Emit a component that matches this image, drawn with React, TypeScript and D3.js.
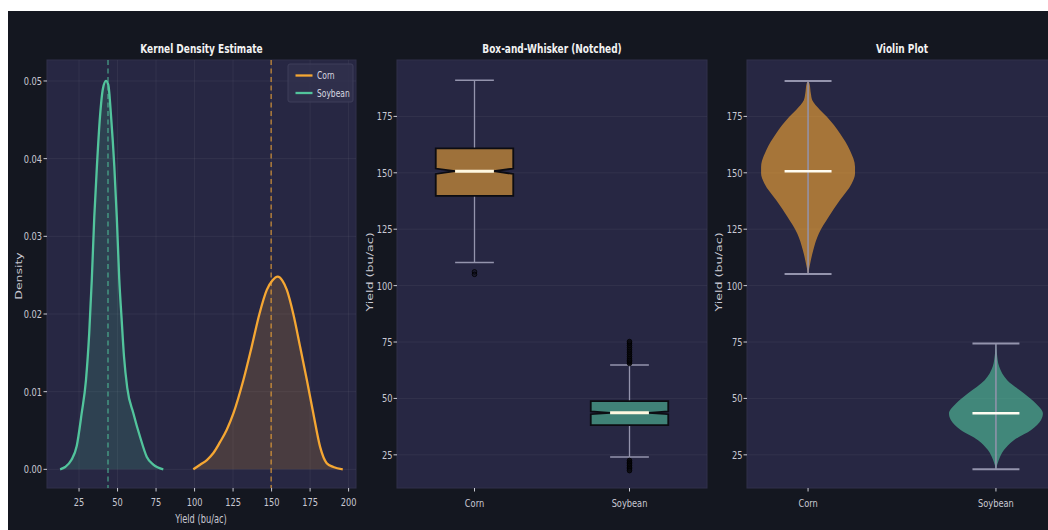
import React from "react";
import * as d3 from "d3";

// ---------- data ----------
const categories = ["Corn", "Soybean"];
const seriesColors = ["#f5a733", "#52c49c"];

// KDE curves: [yield, density]
const cornKde: [number, number][] = [
  [99.2, 0], [103.6, 0.0006], [108, 0.0012], [112.2, 0.0021], [116.5, 0.0035],
  [120.9, 0.0051], [125.2, 0.0072], [131.7, 0.0115], [137.1, 0.0158], [142.1, 0.02],
  [146.9, 0.0231], [150.5, 0.0243], [154, 0.0248], [157, 0.0243], [159.9, 0.0231],
  [164.1, 0.02], [168.5, 0.0158], [172.9, 0.0115], [177.1, 0.0072], [181.5, 0.0029],
  [185.8, 0.0008], [190.1, 0.0003], [196.2, 0],
];
const soyKde: [number, number][] = [
  [12.7, 0], [16, 0.0003], [20, 0.0012], [23.5, 0.003], [26.7, 0.0072], [29.5, 0.0115],
  [31.6, 0.0175], [33.3, 0.0245], [34.9, 0.0325], [36.6, 0.039], [38.6, 0.0454],
  [40.5, 0.049], [42.5, 0.05], [44, 0.0495], [45.8, 0.0454], [47.9, 0.039],
  [49.5, 0.0325], [51.1, 0.0245], [52.6, 0.0195], [54.2, 0.0145], [56.3, 0.0105],
  [60.3, 0.0072], [64.6, 0.0042], [69, 0.0016], [73.2, 0.0006], [79.7, 0],
];
const kdeMeans = [149.7, 43.8];

const kdeXTicks = [25, 50, 75, 100, 125, 150, 175, 200];
const kdeYTicks = [0, 0.01, 0.02, 0.03, 0.04, 0.05];
const yieldTicks = [25, 50, 75, 100, 125, 150, 175];

// Box plot stats (Corn, Soybean)
const boxQ1 = [139.8, 38.2];
const boxMedian = [150.7, 43.6];
const boxQ3 = [160.8, 48.8];
const notchLow = [149.5, 43.0];
const notchHigh = [151.9, 44.2];
const whiskerLow = [110.3, 24.0];
const whiskerHigh = [191.0, 64.8];
const cornOutliers = [106.1, 105.0];
const soyOutliers = [
  65.5, 66.2, 66.8, 67.5, 68.5, 69.5, 70.5, 71.5, 72.5, 73.5, 74.5, 75.2,
  22.5, 21.7, 21.0, 20.3, 19.5, 18.8, 18.0,
];

// Violin profiles: [yield, relative half-width]
const cornViolin: [number, number][] = [
  [190.7, 0], [189.6, 0.03], [185, 0.06], [182.2, 0.09], [178, 0.25], [174.8, 0.4],
  [167.4, 0.68], [160, 0.89], [152.6, 1.0], [149.7, 1.0], [145.3, 0.93], [137.9, 0.68],
  [130.5, 0.44], [123.1, 0.23], [115.7, 0.11], [108.3, 0.03], [105.1, 0],
];
const soyViolin: [number, number][] = [
  [74.4, 0], [70, 0.02], [64, 0.07], [58.1, 0.24], [52.2, 0.6], [47.8, 0.85],
  [43.4, 1.0], [40.4, 0.96], [36, 0.75], [31.5, 0.38], [27.1, 0.17], [22.7, 0.06],
  [18.6, 0],
];
const violinMin = [105.1, 18.6];
const violinMax = [190.7, 74.4];
const violinMedian = [150.7, 43.4];

// ---------- styles ----------
const FONT = "DejaVu Sans";
const PANEL_BG = "#272743";
const FIG_BG = "#141720";
const GRID = "rgba(255,255,255,0.055)";
const TICK_TXT = "#c9c9d3";
const WHISK = "#9494ad";
const TICK_SIZE = 11;

const TOP = 60;
const BOT = 488;

function T({ x, y, children, anchor = "middle", size = TICK_SIZE, weight = 400, fill = TICK_TXT, rotate = false, sq = 0.75 }: any) {
  const tr = rotate
    ? `translate(${x},${y}) scale(${sq},1) rotate(-90)`
    : `translate(${x},${y}) scale(${sq},1)`;
  return (
    <text transform={tr} textAnchor={anchor} fontFamily={FONT} fontSize={size} fontWeight={weight} fill={fill}>
      {children}
    </text>
  );
}

export default function App() {
  const kx = d3.scaleLinear().domain([4.2, 204.8]).range([47, 356]);
  const ky = d3.scaleLinear().domain([-0.0024, 0.0527]).range([BOT, TOP]);
  const yy = d3.scaleLinear().domain([10.3, 200]).range([BOT, TOP]);
  const bx = d3.scaleLinear().domain([0.5, 2.5]).range([397, 707]);
  const vx = d3.scaleLinear().domain([0.675, 2.325]).range([747, 1057]);

  const kdeLine = d3.line<[number, number]>().x((d) => kx(d[0])).y((d) => ky(d[1])).curve(d3.curveMonotoneX);
  const kdeArea = d3.area<[number, number]>().x((d) => kx(d[0])).y0(ky(0)).y1((d) => ky(d[1])).curve(d3.curveMonotoneX);
  const kdes = [cornKde, soyKde];

  const panels = [
    { x0: 47, x1: 356, title: "Kernel Density Estimate" },
    { x0: 397, x1: 707, title: "Box-and-Whisker (Notched)" },
    { x0: 747, x1: 1057, title: "Violin Plot" },
  ];

  const boxW = 0.5;
  const violinW = 0.5;

  const violinArea = (prof: [number, number][], c: number) =>
    d3
      .area<[number, number]>()
      .y((d) => yy(d[0]))
      .x0((d) => vx(c - (d[1] * violinW) / 2))
      .x1((d) => vx(c + (d[1] * violinW) / 2))
      .curve(d3.curveMonotoneY)(prof.slice().sort((a, b) => b[0] - a[0])) as string;

  return (
    <svg width={1048} height={530} style={{ position: "absolute", left: 0, top: 0 }}>
      <rect x={0} y={0} width={1048} height={530} fill="#ffffff" />
      <rect x={8} y={11} width={1040} height={519} fill={FIG_BG} />

      {panels.map((p, i) => (
        <g key={i}>
          <rect x={p.x0} y={TOP} width={p.x1 - p.x0} height={BOT - TOP} fill={PANEL_BG} stroke="#30304b" strokeWidth={1} />
          <T x={(p.x0 + p.x1) / 2} y={52.5} size={12.5} weight={700} fill="#f2f2f2" sq={0.72}>
            {p.title}
          </T>
        </g>
      ))}

      {/* ---------- Panel 1: KDE ---------- */}
      <g>
        {kdeXTicks.map((t) => (
          <line key={"gx" + t} x1={kx(t)} x2={kx(t)} y1={TOP} y2={BOT} stroke={GRID} />
        ))}
        {kdeYTicks.map((t) => (
          <line key={"gy" + t} x1={47} x2={356} y1={ky(t)} y2={ky(t)} stroke={GRID} />
        ))}
        {kdes.map((k, i) => (
          <path key={"a" + i} d={kdeArea(k) as string} fill={seriesColors[i]} fillOpacity={0.17} />
        ))}
        {kdeMeans.map((m, i) => (
          <line key={"m" + i} x1={kx(m)} x2={kx(m)} y1={TOP} y2={BOT} stroke={seriesColors[i]} strokeOpacity={0.75} strokeWidth={1.3} strokeDasharray="5,3.5" />
        ))}
        {kdes.map((k, i) => (
          <path key={"l" + i} d={kdeLine(k) as string} fill="none" stroke={seriesColors[i]} strokeWidth={2.3} />
        ))}
        {kdeXTicks.map((t) => (
          <g key={"tx" + t}>
            <line x1={kx(t)} x2={kx(t)} y1={BOT} y2={BOT + 3.5} stroke={TICK_TXT} />
            <T x={kx(t)} y={BOT + 17.5}>{t}</T>
          </g>
        ))}
        {kdeYTicks.map((t) => (
          <g key={"ty" + t}>
            <line x1={47 - 3.5} x2={47} y1={ky(t)} y2={ky(t)} stroke={TICK_TXT} />
            <T x={42} y={ky(t) + 4} anchor="end">{t.toFixed(2)}</T>
          </g>
        ))}
        <T x={201} y={522.5} size={11.5} sq={0.72}>Yield (bu/ac)</T>
        <T x={21.5} y={276} size={12.5} rotate sq={0.72}>Density</T>

        {/* legend */}
        <rect x={288} y={64} width={65} height={38} fill="#31314d" fillOpacity={0.9} stroke="#3f3f5a" rx={2} />
        {categories.map((c, i) => (
          <g key={"lg" + i}>
            <line x1={295.5} x2={312.5} y1={75.5 + i * 17.5} y2={75.5 + i * 17.5} stroke={seriesColors[i]} strokeWidth={2.3} />
            <T x={317} y={79 + i * 17.5} anchor="start" fill="#d8d8e0" size={10.2} sq={0.74}>{c}</T>
          </g>
        ))}
      </g>

      {/* ---------- Panel 2: Box ---------- */}
      <g>
        {yieldTicks.map((t) => (
          <line key={"g2" + t} x1={397} x2={707} y1={yy(t)} y2={yy(t)} stroke={GRID} />
        ))}
        {categories.map((c, i) => {
          const cx = i + 1;
          const l = bx(cx - boxW / 2), r = bx(cx + boxW / 2);
          const nl = bx(cx - boxW / 4), nr = bx(cx + boxW / 4);
          const path = [
            [l, yy(boxQ1[i])], [r, yy(boxQ1[i])], [r, yy(notchLow[i])], [nr, yy(boxMedian[i])],
            [r, yy(notchHigh[i])], [r, yy(boxQ3[i])], [l, yy(boxQ3[i])], [l, yy(notchHigh[i])],
            [nl, yy(boxMedian[i])], [l, yy(notchLow[i])],
          ];
          const capL = bx(cx - boxW / 4), capR = bx(cx + boxW / 4);
          const outs = i === 0 ? cornOutliers : soyOutliers;
          return (
            <g key={"b" + i}>
              <line x1={bx(cx)} x2={bx(cx)} y1={yy(boxQ3[i])} y2={yy(whiskerHigh[i])} stroke={WHISK} strokeWidth={1.3} />
              <line x1={bx(cx)} x2={bx(cx)} y1={yy(boxQ1[i])} y2={yy(whiskerLow[i])} stroke={WHISK} strokeWidth={1.3} />
              <line x1={capL} x2={capR} y1={yy(whiskerHigh[i])} y2={yy(whiskerHigh[i])} stroke={WHISK} strokeWidth={1.5} />
              <line x1={capL} x2={capR} y1={yy(whiskerLow[i])} y2={yy(whiskerLow[i])} stroke={WHISK} strokeWidth={1.5} />
              <path d={"M" + path.map((p) => p.join(",")).join("L") + "Z"} fill={seriesColors[i]} fillOpacity={0.58} stroke="#0c0c12" strokeWidth={1.8} />
              <line x1={nl} x2={nr} y1={yy(boxMedian[i])} y2={yy(boxMedian[i])} stroke="#fff8e0" strokeWidth={3} />
              {outs.map((o, j) => (
                <circle key={j} cx={bx(cx)} cy={yy(o)} r={2.3} fill="#0a0a10" fillOpacity={i === 0 ? 0.35 : 0.85} stroke="#000" strokeWidth={0.8} />
              ))}
              <line x1={bx(cx)} x2={bx(cx)} y1={BOT} y2={BOT + 3.5} stroke={TICK_TXT} />
              <T x={bx(cx)} y={BOT + 18.5}>{c}</T>
            </g>
          );
        })}
        {yieldTicks.map((t) => (
          <g key={"t2" + t}>
            <line x1={397 - 3.5} x2={397} y1={yy(t)} y2={yy(t)} stroke={TICK_TXT} />
            <T x={392.5} y={yy(t) + 4} anchor="end">{t}</T>
          </g>
        ))}
        <T x={373} y={272} size={12.7} rotate sq={0.72}>Yield (bu/ac)</T>
      </g>

      {/* ---------- Panel 3: Violin ---------- */}
      <g>
        {yieldTicks.map((t) => (
          <line key={"g3" + t} x1={747} x2={1057} y1={yy(t)} y2={yy(t)} stroke={GRID} />
        ))}
        {categories.map((c, i) => {
          const cx = i + 1;
          const prof = i === 0 ? cornViolin : soyViolin;
          const capL = vx(cx - violinW / 4), capR = vx(cx + violinW / 4);
          return (
            <g key={"v" + i}>
              <path d={violinArea(prof, cx)} fill={seriesColors[i]} fillOpacity={0.62} />
              <line x1={vx(cx)} x2={vx(cx)} y1={yy(violinMin[i])} y2={yy(violinMax[i])} stroke={WHISK} strokeWidth={1.5} />
              <line x1={capL} x2={capR} y1={yy(violinMax[i])} y2={yy(violinMax[i])} stroke={WHISK} strokeWidth={2} />
              <line x1={capL} x2={capR} y1={yy(violinMin[i])} y2={yy(violinMin[i])} stroke={WHISK} strokeWidth={2} />
              <line x1={capL} x2={capR} y1={yy(violinMedian[i])} y2={yy(violinMedian[i])} stroke="#fffdf2" strokeWidth={2.6} />
              <line x1={vx(cx)} x2={vx(cx)} y1={BOT} y2={BOT + 3.5} stroke={TICK_TXT} />
              <T x={vx(cx)} y={BOT + 18.5}>{c}</T>
            </g>
          );
        })}
        {yieldTicks.map((t) => (
          <g key={"t3" + t}>
            <line x1={747 - 3.5} x2={747} y1={yy(t)} y2={yy(t)} stroke={TICK_TXT} />
            <T x={742.5} y={yy(t) + 4} anchor="end">{t}</T>
          </g>
        ))}
        <T x={722} y={272} size={12.7} rotate sq={0.72}>Yield (bu/ac)</T>
      </g>
    </svg>
  );
}
